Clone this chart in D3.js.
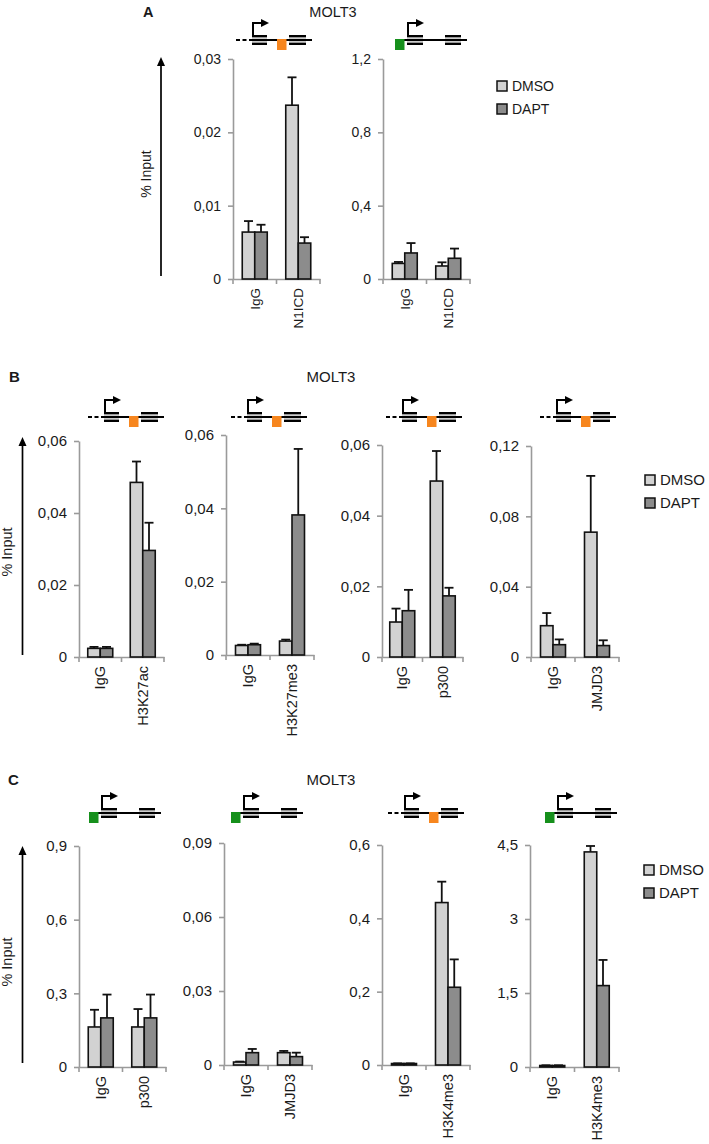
<!DOCTYPE html>
<html><head><meta charset="utf-8">
<script src="https://cdn.jsdelivr.net/npm/d3@7"></script>
<style>
body{margin:0;background:#fff}
svg{display:block}
text{font-family:"Liberation Sans",Arial,sans-serif;fill:#1a1a1a}
</style>
</head><body><svg id="c" width="709" height="1144"></svg>
<script>
// ---------- DATA ----------
const series = ["DMSO", "DAPT"];

// Panel A
const catsA1 = ["IgG", "N1ICD"];
const dmsoA1 = [0.0064, 0.0237], dmsoErrA1 = [0.0015, 0.0038];
const daptA1 = [0.0064, 0.0049], daptErrA1 = [0.0010, 0.0008];
const ticksA1 = [0, 0.01, 0.02, 0.03];

const catsA2 = ["IgG", "N1ICD"];
const dmsoA2 = [0.085, 0.071], dmsoErrA2 = [0.008, 0.020];
const daptA2 = [0.142, 0.113], daptErrA2 = [0.054, 0.053];
const ticksA2 = [0, 0.4, 0.8, 1.2];

// Panel B
const catsB1 = ["IgG", "H3K27ac"];
const dmsoB1 = [0.0024, 0.0485], dmsoErrB1 = [0.0004, 0.0058];
const daptB1 = [0.0024, 0.0296], daptErrB1 = [0.0004, 0.0077];
const ticksB1 = [0, 0.02, 0.04, 0.06];

const catsB2 = ["IgG", "H3K27me3"];
const dmsoB2 = [0.0026, 0.0038], dmsoErrB2 = [0.0002, 0.0004];
const daptB2 = [0.0028, 0.0382], daptErrB2 = [0.0003, 0.0180];
const ticksB2 = [0, 0.02, 0.04, 0.06];

const catsB3 = ["IgG", "p300"];
const dmsoB3 = [0.0099, 0.0498], dmsoErrB3 = [0.0038, 0.0085];
const daptB3 = [0.0131, 0.0173], daptErrB3 = [0.0059, 0.0023];
const ticksB3 = [0, 0.02, 0.04, 0.06];

const catsB4 = ["IgG", "JMJD3"];
const dmsoB4 = [0.0178, 0.0710], dmsoErrB4 = [0.0072, 0.0320];
const daptB4 = [0.0070, 0.0065], daptErrB4 = [0.0030, 0.0030];
const ticksB4 = [0, 0.04, 0.08, 0.12];

// Panel C
const catsC1 = ["IgG", "p300"];
const dmsoC1 = [0.163, 0.163], dmsoErrC1 = [0.070, 0.073];
const daptC1 = [0.200, 0.200], daptErrC1 = [0.095, 0.095];
const ticksC1 = [0, 0.3, 0.6, 0.9];

const catsC2 = ["IgG", "JMJD3"];
const dmsoC2 = [0.0012, 0.0050], dmsoErrC2 = [0.0002, 0.0007];
const daptC2 = [0.0050, 0.0034], daptErrC2 = [0.0015, 0.0016];
const ticksC2 = [0, 0.03, 0.06, 0.09];

const catsC3 = ["IgG", "H3K4me3"];
const dmsoC3 = [0.004, 0.443], dmsoErrC3 = [0.0005, 0.057];
const daptC3 = [0.004, 0.212], daptErrC3 = [0.0005, 0.076];
const ticksC3 = [0, 0.2, 0.4, 0.6];

const catsC4 = ["IgG", "H3K4me3"];
const dmsoC4 = [0.03, 4.36], dmsoErrC4 = [0.005, 0.12];
const daptC4 = [0.03, 1.65], daptErrC4 = [0.005, 0.52];
const ticksC4 = [0, 1.5, 3, 4.5];

// ---------- DRAWING ----------
const svg = d3.select("#c");
const fillCol = d3.scaleOrdinal().domain(series).range(["#d2d2d2", "#8c8c8c"]);
const fmt = v => String(+v.toFixed(4)).replace(".", ",");
const AX = "#9a9a9a";

function drawChart(c) {
  const y = d3.scaleLinear().domain([0, c.ticks[c.ticks.length - 1]]).range([c.y0, c.yTop]);
  const x = d3.scaleBand().domain(c.cats).range([c.x0, c.x1]);
  const sub = d3.scaleBand().domain(series).range([-12.5, 12.5]);
  const g = svg.append("g");

  const ga = g.append("g").attr("transform", `translate(${c.x0},0)`)
    .call(d3.axisLeft(y).tickValues(c.ticks).tickFormat(fmt).tickSize(5).tickSizeOuter(0).tickPadding(7));
  ga.select(".domain").attr("stroke", AX).attr("stroke-width", 1.6);
  ga.selectAll(".tick line").attr("stroke", AX).attr("stroke-width", 1.6);
  ga.selectAll(".tick text").attr("font-size", c.fs).attr("font-family", "Liberation Sans, Arial, sans-serif").attr("fill", "#1a1a1a");

  const gx = g.append("g").attr("transform", `translate(0,${c.y0})`)
    .call(d3.axisBottom(x).tickSize(0).tickFormat(""));
  gx.select(".domain").attr("stroke", AX).attr("stroke-width", 1.6);
  const bounds = c.cats.map(d => x(d)).concat([c.x1]);
  g.selectAll(".bt").data(bounds).join("line")
    .attr("x1", d => d).attr("x2", d => d).attr("y1", c.y0).attr("y2", c.y0 + 5)
    .attr("stroke", AX).attr("stroke-width", 1.6);

  g.selectAll(".cl").data(c.cats).join("text")
    .attr("transform", d => `translate(${x(d) + x.bandwidth() / 2 + 5},${c.y0 + 9}) rotate(-90)`)
    .attr("text-anchor", "end").attr("font-size", c.cfs).text(d => d);

  const rows = [];
  c.cats.forEach((cat, i) => {
    rows.push({cat, s: "DMSO", v: c.dmso[i], e: c.dmsoErr[i]});
    rows.push({cat, s: "DAPT", v: c.dapt[i], e: c.daptErr[i]});
  });
  const cx = d => x(d.cat) + x.bandwidth() / 2 + sub(d.s) + sub.bandwidth() / 2;
  g.selectAll(".eb").data(rows).join("line")
    .attr("x1", cx).attr("x2", cx).attr("y1", d => y(d.v)).attr("y2", d => y(d.v + d.e))
    .attr("stroke", "#111").attr("stroke-width", 1.8);
  g.selectAll(".ec").data(rows).join("line")
    .attr("x1", d => cx(d) - 4.5).attr("x2", d => cx(d) + 4.5)
    .attr("y1", d => y(d.v + d.e)).attr("y2", d => y(d.v + d.e))
    .attr("stroke", "#111").attr("stroke-width", 1.8);
  g.selectAll(".bar").data(rows).join("rect")
    .attr("x", d => x(d.cat) + x.bandwidth() / 2 + sub(d.s))
    .attr("width", sub.bandwidth())
    .attr("y", d => y(d.v)).attr("height", d => c.y0 - y(d.v))
    .attr("fill", d => fillCol(d.s)).attr("stroke", "#111").attr("stroke-width", 1.6);
}

function exon(g, xa, xb, ly) {
  [-3.8, 0, 3.8].forEach(o => g.append("line").attr("x1", xa).attr("x2", xb)
    .attr("y1", ly + o).attr("y2", ly + o).attr("stroke", "#000").attr("stroke-width", 2.4));
}
function tssArrow(g, ax, ly) {
  g.append("path").attr("d", `M${ax},${ly - 4}V${ly - 17}H${ax + 9}`)
    .attr("fill", "none").attr("stroke", "#000").attr("stroke-width", 2);
  g.append("path").attr("d", `M${ax + 8},${ly - 21}L${ax + 16},${ly - 17}L${ax + 8},${ly - 13}Z`).attr("fill", "#000");
}
function diagram(type, x0, ly) {
  const g = svg.append("g");
  if (type === "enh") {
    g.append("line").attr("x1", x0).attr("x2", x0 + 16).attr("y1", ly).attr("y2", ly)
      .attr("stroke", "#000").attr("stroke-width", 2).attr("stroke-dasharray", "4,2.5");
    g.append("line").attr("x1", x0 + 16).attr("x2", x0 + 76).attr("y1", ly).attr("y2", ly)
      .attr("stroke", "#000").attr("stroke-width", 2);
    exon(g, x0 + 16, x0 + 31, ly);
    exon(g, x0 + 53, x0 + 70, ly);
    g.append("rect").attr("x", x0 + 41).attr("y", ly - 1).attr("width", 9.5).attr("height", 11).attr("fill", "#f7861e");
    tssArrow(g, x0 + 17, ly);
  } else {
    g.append("line").attr("x1", x0).attr("x2", x0 + 72).attr("y1", ly).attr("y2", ly)
      .attr("stroke", "#000").attr("stroke-width", 2);
    exon(g, x0 + 12, x0 + 28, ly);
    exon(g, x0 + 50, x0 + 66, ly);
    g.append("rect").attr("x", x0).attr("y", ly - 1).attr("width", 9.5).attr("height", 11).attr("fill", "#16901c");
    tssArrow(g, x0 + 13, ly);
  }
}
function vArrow(x, yb, yt, ylab, xlab, fs) {
  svg.append("line").attr("x1", x).attr("x2", x).attr("y1", yb).attr("y2", yt + 6)
    .attr("stroke", "#000").attr("stroke-width", 1.7);
  svg.append("path").attr("d", `M${x - 4},${yt + 9}L${x},${yt}L${x + 4},${yt + 9}Z`).attr("fill", "#000");
  svg.append("text").attr("transform", `translate(${xlab},${ylab}) rotate(-90)`)
    .attr("text-anchor", "middle").attr("font-size", fs).text("% Input");
}
function legend(x, y, fs) {
  series.forEach((s, i) => {
    svg.append("rect").attr("x", x).attr("y", y + i * 23 - 5).attr("width", 10).attr("height", 10)
      .attr("fill", fillCol(s)).attr("stroke", "#111").attr("stroke-width", 1.5);
    svg.append("text").attr("x", x + 15).attr("y", y + i * 23 + 5).attr("font-size", fs).text(s);
  });
}
function title(letter, lx, cx, by, fs) {
  svg.append("text").attr("x", lx).attr("y", by).attr("font-size", fs).attr("font-weight", "bold").text(letter);
  svg.append("text").attr("x", cx).attr("y", by).attr("text-anchor", "middle").attr("font-size", fs).text("MOLT3");
}

// Panel A
title("A", 143, 333, 17, 14.5);
vArrow(161, 276, 57, 174, 151, 14);
drawChart({cats: catsA1, dmso: dmsoA1, dmsoErr: dmsoErrA1, dapt: daptA1, daptErr: daptErrA1, ticks: ticksA1,
  x0: 233, x1: 320, yTop: 59, y0: 279, fs: 14, cfs: 13.5});
drawChart({cats: catsA2, dmso: dmsoA2, dmsoErr: dmsoErrA2, dapt: daptA2, daptErr: daptErrA2, ticks: ticksA2,
  x0: 383, x1: 470, yTop: 59, y0: 279, fs: 14, cfs: 13.5});
diagram("enh", 236, 40);
diagram("prom", 395, 40);
legend(497, 86, 14);

// Panel B
title("B", 9, 331, 382, 15);
vArrow(22.5, 655, 437, 552, 12, 14.5);
const bCharts = [
  {cats: catsB1, dmso: dmsoB1, dmsoErr: dmsoErrB1, dapt: daptB1, daptErr: daptErrB1, ticks: ticksB1, x0: 79, x1: 164, yTop: 441, y0: 657},
  {cats: catsB2, dmso: dmsoB2, dmsoErr: dmsoErrB2, dapt: daptB2, daptErr: daptErrB2, ticks: ticksB2, x0: 226, x1: 314, yTop: 435, y0: 655},
  {cats: catsB3, dmso: dmsoB3, dmsoErr: dmsoErrB3, dapt: daptB3, daptErr: daptErrB3, ticks: ticksB3, x0: 382, x1: 463, yTop: 445, y0: 657},
  {cats: catsB4, dmso: dmsoB4, dmsoErr: dmsoErrB4, dapt: daptB4, daptErr: daptErrB4, ticks: ticksB4, x0: 531, x1: 619, yTop: 446, y0: 657}
];
bCharts.forEach(c => drawChart(Object.assign(c, {fs: 15, cfs: 14.5})));
diagram("enh", 88, 417);
diagram("enh", 231, 417);
diagram("enh", 386, 417);
diagram("enh", 540, 417);
legend(645, 480, 15);

// Panel C
title("C", 8, 331, 785, 15);
vArrow(22.5, 1063, 846, 962, 12, 14.5);
const cCharts = [
  {cats: catsC1, dmso: dmsoC1, dmsoErr: dmsoErrC1, dapt: daptC1, daptErr: daptErrC1, ticks: ticksC1, x0: 79, x1: 166, yTop: 846, y0: 1067},
  {cats: catsC2, dmso: dmsoC2, dmsoErr: dmsoErrC2, dapt: daptC2, daptErr: daptErrC2, ticks: ticksC2, x0: 224, x1: 312, yTop: 843, y0: 1065},
  {cats: catsC3, dmso: dmsoC3, dmsoErr: dmsoErrC3, dapt: daptC3, daptErr: daptErrC3, ticks: ticksC3, x0: 382, x1: 470, yTop: 845, y0: 1065},
  {cats: catsC4, dmso: dmsoC4, dmsoErr: dmsoErrC4, dapt: daptC4, daptErr: daptErrC4, ticks: ticksC4, x0: 530, x1: 619, yTop: 845, y0: 1067}
];
cCharts.forEach(c => drawChart(Object.assign(c, {fs: 15, cfs: 14.5})));
diagram("prom", 89, 813);
diagram("prom", 231, 813);
diagram("enh", 388, 813);
diagram("prom", 545, 813);
legend(644, 870, 15);
</script></body></html>
